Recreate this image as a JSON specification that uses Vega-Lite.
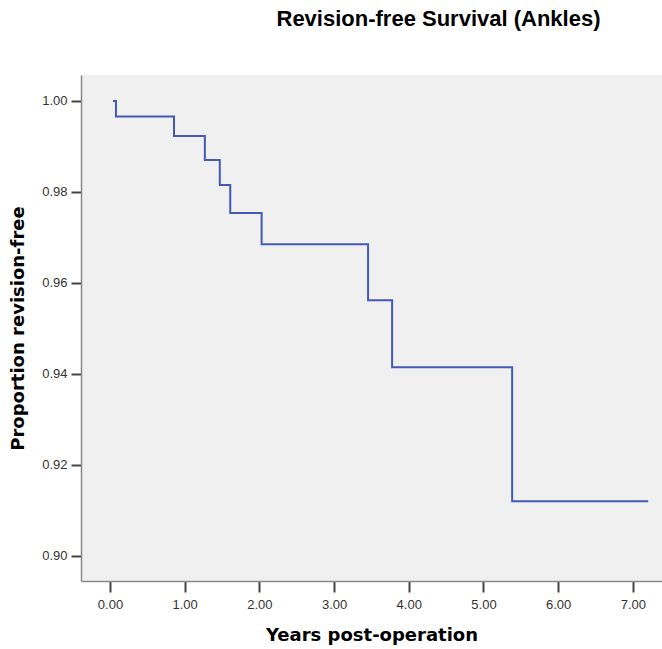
{
  "$schema": "https://vega.github.io/schema/vega-lite/v6.json",
  "width": 581,
  "height": 506,
  "autosize": "none",
  "padding": {"left": 81, "top": 75, "right": 0, "bottom": 68},
  "background": "white",
  "config": {
    "view": {"fill": "#f0f0f0", "stroke": null},
    "font": "Liberation Sans"
  },
  "title": {
    "text": "Revision-free Survival (Ankles)",
    "anchor": "middle",
    "frame": "group",
    "dx": 67,
    "offset": 44,
    "fontSize": 22,
    "fontWeight": "bold",
    "font": "Liberation Sans",
    "color": "#000000"
  },
  "data": {
    "values": [
      {"years": 0.04, "surv": 1.0},
      {"years": 0.08, "surv": 0.9966},
      {"years": 0.857, "surv": 0.9923},
      {"years": 1.27, "surv": 0.987},
      {"years": 1.47, "surv": 0.9815},
      {"years": 1.61, "surv": 0.9754},
      {"years": 2.03, "surv": 0.9685},
      {"years": 3.455, "surv": 0.9562},
      {"years": 3.777, "surv": 0.9415},
      {"years": 5.384, "surv": 0.912},
      {"years": 7.205, "surv": 0.912}
    ]
  },
  "mark": {"type": "line", "interpolate": "step-after", "color": "#4259b5", "strokeWidth": 2},
  "encoding": {
    "x": {
      "field": "years",
      "type": "quantitative",
      "scale": {"domain": [-0.388, 7.39], "nice": false, "zero": false},
      "axis": {
        "values": [0, 1, 2, 3, 4, 5, 6, 7],
        "format": ".2f",
        "grid": false,
        "title": "Years post-operation",
        "titleFont": "DejaVu Sans",
        "titleFontSize": 18,
        "titleFontWeight": "bold",
        "titleColor": "#000000",
        "titlePadding": 15,
        "labelFontSize": 13,
        "labelColor": "#333333",
        "labelPadding": 6,
        "domainColor": "#888888",
        "domainWidth": 1.5,
        "tickColor": "#444444",
        "tickSize": 11,
        "tickWidth": 2
      }
    },
    "y": {
      "field": "surv",
      "type": "quantitative",
      "scale": {"domain": [0.8945, 1.0057], "nice": false, "zero": false},
      "axis": {
        "values": [0.90, 0.92, 0.94, 0.96, 0.98, 1.00],
        "format": ".2f",
        "grid": false,
        "title": "Proportion revision-free",
        "titleFont": "DejaVu Sans",
        "titleFontSize": 18,
        "titleFontWeight": "bold",
        "titleColor": "#000000",
        "titlePadding": 14,
        "labelFontSize": 13,
        "labelColor": "#333333",
        "labelPadding": 4,
        "domainColor": "#888888",
        "domainWidth": 1.5,
        "tickColor": "#444444",
        "tickSize": 10,
        "tickWidth": 2
      }
    }
  }
}
